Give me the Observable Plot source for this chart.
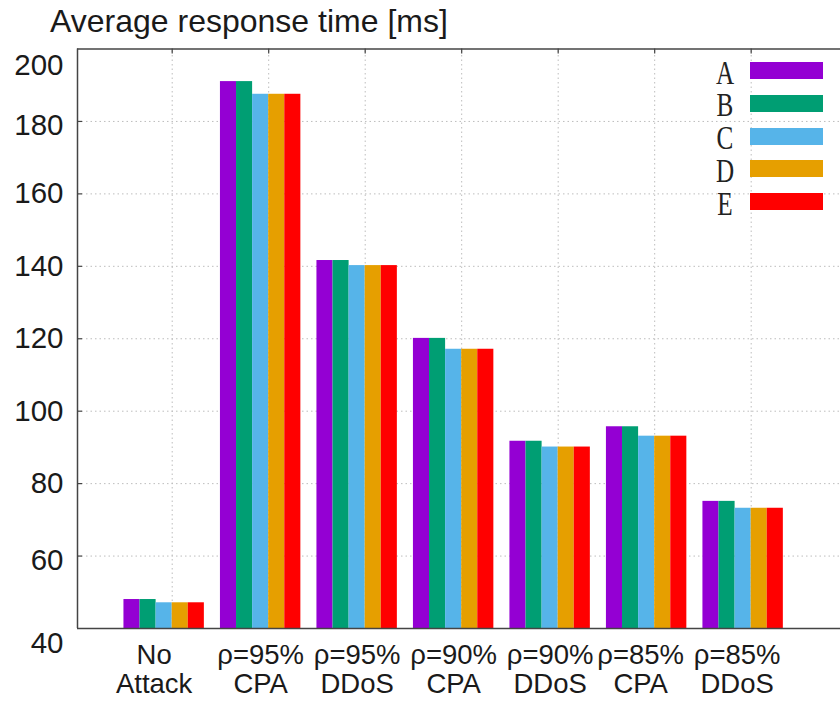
<!DOCTYPE html>
<html>
<head>
<meta charset="utf-8">
<script src="https://cdn.jsdelivr.net/npm/d3@7"></script>
<script src="https://cdn.jsdelivr.net/npm/@observablehq/plot@0.6"></script>
<style>
  html, body { margin: 0; padding: 0; background: #fff; }
  #wrap { position: relative; width: 840px; height: 701px; font-family: "Liberation Sans", Arial, sans-serif; }
  #title { height: 40px; box-sizing: border-box; padding: 6px 0 0 50px; font-size: 32px; line-height: 30px; color: #1a1a1a; white-space: nowrap; }
  .key-letter { position: absolute; width: 30px; text-align: center; font-family: "Liberation Serif", "Times New Roman", serif; font-size: 34px; line-height: 30px; color: #222; transform: scaleX(0.74); }
  .key-swatch { position: absolute; width: 73px; height: 17px; }
</style>
</head>
<body>
<div id="wrap">
  <div id="title">Average response time [ms]</div>
  <div id="chart"></div>
</div>
<script>
// Scenario categories along the x axis (two-line labels)
const categories = ["No\nAttack", "ρ=95%\nCPA", "ρ=95%\nDDoS", "ρ=90%\nCPA", "ρ=90%\nDDoS", "ρ=85%\nCPA", "ρ=85%\nDDoS"];

// Series names and their bar colours
const seriesNames = ["A", "B", "C", "D", "E"];
const seriesColors = ["#9400d3", "#009e73", "#56b4e9", "#e69f00", "#ff0000"];

// Average response time [ms] per scenario
const valuesA = [48.0, 191.0, 141.6, 120.1, 91.7, 95.7, 75.1];
const valuesB = [48.0, 191.0, 141.6, 120.1, 91.7, 95.7, 75.1];
const valuesC = [47.1, 187.5, 140.2, 117.1, 90.1, 93.1, 73.2];
const valuesD = [47.1, 187.5, 140.2, 117.1, 90.1, 93.1, 73.2];
const valuesE = [47.1, 187.5, 140.2, 117.1, 90.1, 93.1, 73.2];

// Y axis ticks
const yTicks = [40, 60, 80, 100, 120, 140, 160, 180, 200];

const seriesValues = [valuesA, valuesB, valuesC, valuesD, valuesE];
const nSeries = seriesNames.length;
const slot = 1 / (nSeries + 1); // bar width within a cluster, one slot left as gap

// one record per bar: cluster index, series index, value
const bars = [];
categories.forEach((c, i) => {
  seriesValues.forEach((vals, j) => {
    bars.push({cat: i, series: seriesNames[j], j, value: vals[i]});
  });
});

const yMin = yTicks[0], yMax = yTicks[yTicks.length - 1];
const xMin = -0.898, xMax = 7.009;
const tickPos = categories.map((c, i) => i + slot / 2); // category tics sit on the middle bar's right edge
const midTicks = yTicks.filter(t => t !== yMin && t !== yMax);

const axisFont = 29.5;
const ink = "#1a1a1a";
const gridStyle = {stroke: "#bdbdbd", strokeDasharray: "1.5,3", strokeWidth: 1};
const labelStyle = {frameAnchor: "bottom", lineAnchor: "top", dy: 15, fontSize: 27.5, lineHeight: 1.06, fill: ink};
const catLabels = categories.map((text, i) => ({i, text}));

const chart = Plot.plot({
  width: 840,
  height: 661,
  marginLeft: 77,
  marginRight: 0,
  marginTop: 8.5,
  marginBottom: 73,
  style: {fontFamily: "'Liberation Sans', Arial, sans-serif", color: ink, background: "#fff"},
  x: {domain: [xMin, xMax], axis: null},
  y: {domain: [yMin, yMax], axis: null},
  color: {domain: seriesNames, range: seriesColors},
  marks: [
    // dotted grid
    Plot.ruleY(midTicks, {...gridStyle}),
    Plot.ruleX(tickPos, {y1: yMin, y2: yMax, ...gridStyle}),
    // clustered bars
    Plot.rect(bars, {
      x1: d => d.cat - (nSeries / 2) * slot + d.j * slot,
      x2: d => d.cat - (nSeries / 2) * slot + (d.j + 1) * slot,
      y1: yMin,
      y2: "value",
      fill: "series",
      clip: true
    }),
    // inward ticks on the left border and the top border
    Plot.ruleY(midTicks, {x1: xMin, x2: xMin + 5 / 96.5, stroke: "#444", strokeWidth: 1.2}),
    Plot.ruleX(tickPos, {y1: yMax, y2: yMax - 5 / 3.623, stroke: "#444", strokeWidth: 1.2}),
    // border lines
    Plot.ruleY([yMin, yMax], {stroke: "#444", strokeWidth: 1.5}),
    Plot.ruleX([xMin], {y1: yMin, y2: yMax, stroke: "#444", strokeWidth: 1.5}),
    // y tick labels
    Plot.axisY([80, 100, 120, 140, 160], {anchor: "left", tickSize: 0, tickPadding: 14, fontSize: axisFont, label: null, fill: ink}),
    Plot.axisY([60, 180], {anchor: "left", tickSize: 0, tickPadding: 14, fontSize: axisFont, label: null, fill: ink, dy: 4}),
    Plot.axisY([yMax], {anchor: "left", tickSize: 0, tickPadding: 14, fontSize: axisFont, label: null, fill: ink, dy: 17}),
    Plot.axisY([yMin], {anchor: "left", tickSize: 0, tickPadding: 14, fontSize: axisFont, label: null, fill: ink, dy: 15}),
    // category labels
    Plot.text(catLabels.slice(0, 1), {x: "i", text: "text", ...labelStyle, dx: -10}),
    Plot.text(catLabels.slice(1, 5), {x: "i", text: "text", ...labelStyle}),
    Plot.text(catLabels.slice(5), {x: "i", text: "text", ...labelStyle, dx: -6})
  ]
});
document.getElementById("chart").appendChild(chart);

// key in the upper right of the plot area
const wrap = document.getElementById("wrap");
seriesNames.forEach((name, i) => {
  const letter = document.createElement("div");
  letter.className = "key-letter";
  letter.textContent = name;
  letter.style.left = "710px";
  letter.style.top = (57.5 + 32.8 * i) + "px";
  wrap.appendChild(letter);
  const sw = document.createElement("div");
  sw.className = "key-swatch";
  sw.style.left = "750px";
  sw.style.top = (62 + 32.8 * i) + "px";
  sw.style.background = seriesColors[i];
  wrap.appendChild(sw);
});
</script>
</body>
</html>
